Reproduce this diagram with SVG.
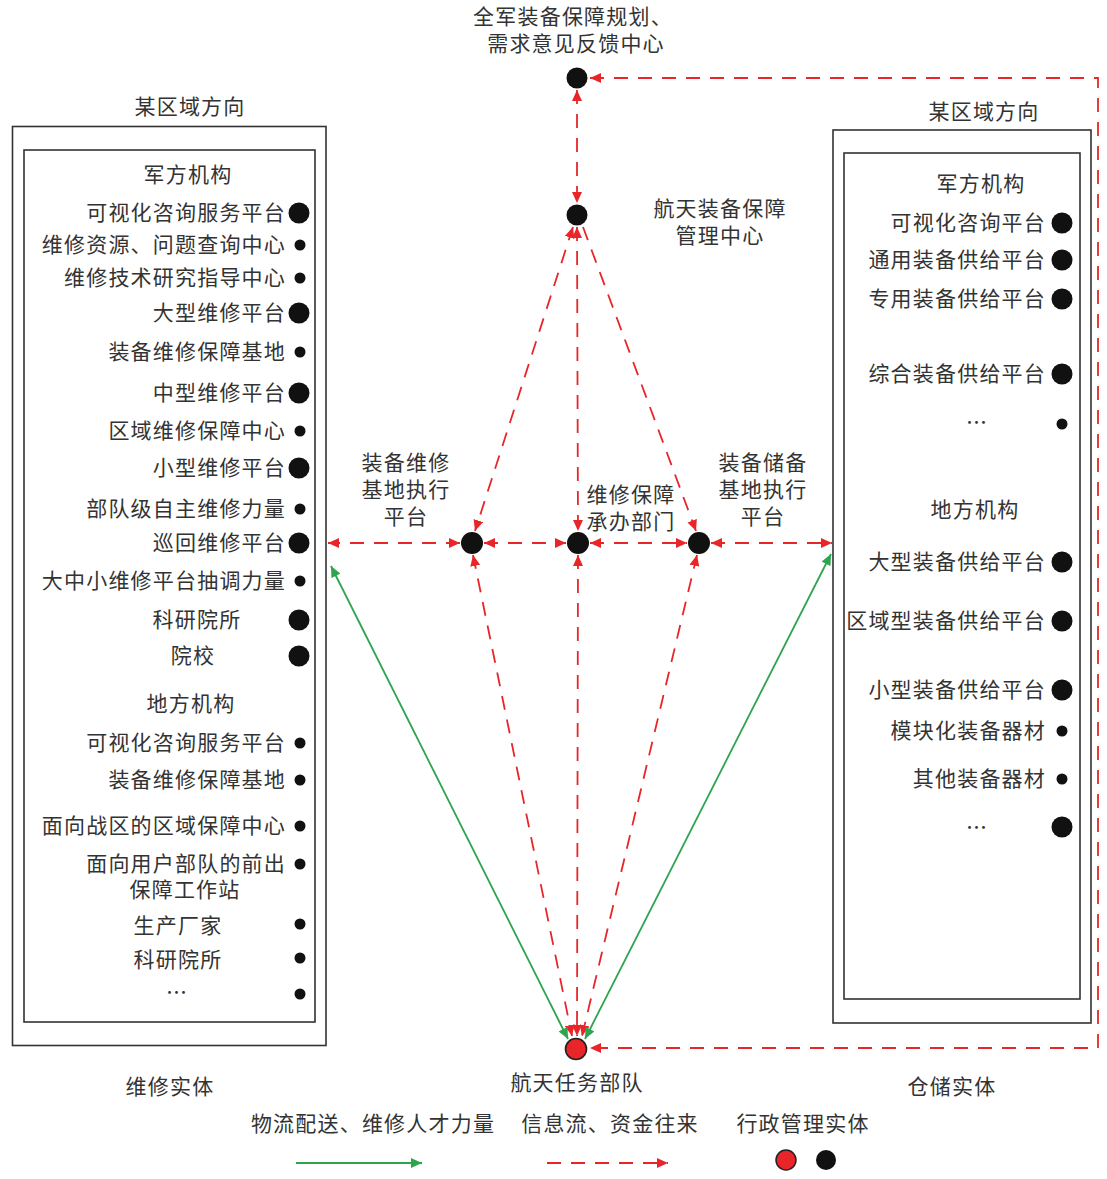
<svg xmlns="http://www.w3.org/2000/svg" width="1107" height="1179" viewBox="0 0 1107 1179">
<defs>
<marker id="ar" markerUnits="userSpaceOnUse" markerWidth="12" markerHeight="10" refX="11" refY="5" orient="auto-start-reverse"><path d="M0,0 L11,5 L0,10 z" fill="#e8262a"/></marker>
<marker id="ag" markerUnits="userSpaceOnUse" markerWidth="12" markerHeight="10" refX="11" refY="5" orient="auto-start-reverse"><path d="M0,0 L11,5 L0,10 z" fill="#2ea44f"/></marker>
</defs>
<style>
text{font-family:"Noto Sans CJK SC","Noto Sans CJK JP",sans-serif;font-size:21px;letter-spacing:1.2px;fill:#333}
.e{text-anchor:end}
.m{text-anchor:middle}
.box{fill:none;stroke:#333;stroke-width:1.6}
.red{fill:none;stroke:#e8262a;stroke-width:1.8;stroke-dasharray:14 10}
.grn{fill:none;stroke:#2ea44f;stroke-width:1.8}
.dot{fill:#111}
</style>
<rect width="1107" height="1179" fill="#fff"/>

<g id="connectors">
<path class="red" d="M590 78 L1098 78 L1098 1048 L590 1048" marker-start="url(#ar)" marker-end="url(#ar)"/>
<line class="red" x1="577" y1="90" x2="577" y2="203" marker-start="url(#ar)" marker-end="url(#ar)"/>
<line class="red" x1="573" y1="227" x2="475" y2="531" marker-start="url(#ar)" marker-end="url(#ar)"/>
<line class="red" x1="577" y1="227" x2="578" y2="531" marker-start="url(#ar)" marker-end="url(#ar)"/>
<line class="red" x1="583" y1="227" x2="696" y2="531" marker-end="url(#ar)"/>
<line class="red" x1="460" y1="543" x2="328" y2="543" marker-start="url(#ar)" marker-end="url(#ar)"/>
<line class="red" x1="484" y1="543" x2="566" y2="543" marker-start="url(#ar)" marker-end="url(#ar)"/>
<line class="red" x1="590" y1="543" x2="687" y2="543" marker-start="url(#ar)" marker-end="url(#ar)"/>
<line class="red" x1="711" y1="543" x2="832" y2="543" marker-start="url(#ar)" marker-end="url(#ar)"/>
<line class="red" x1="473" y1="555" x2="572" y2="1036" marker-start="url(#ar)" marker-end="url(#ar)"/>
<line class="red" x1="578" y1="555" x2="577" y2="1036" marker-start="url(#ar)" marker-end="url(#ar)"/>
<line class="red" x1="697" y1="555" x2="582" y2="1036" marker-start="url(#ar)" marker-end="url(#ar)"/>
<line class="grn" x1="331" y1="566" x2="568" y2="1039" marker-start="url(#ag)" marker-end="url(#ag)"/>
<line class="grn" x1="831" y1="554" x2="585" y2="1039" marker-start="url(#ag)" marker-end="url(#ag)"/>
</g>

<g id="node-top">
<circle class="dot" cx="577" cy="78" r="10.5"/>
<text class="m" x="573" y="24">全军装备保障规划、</text>
<text class="m" x="576" y="51">需求意见反馈中心</text>
</g>
<g id="node-mgmt">
<circle class="dot" cx="577" cy="215" r="10.5"/>
<text class="m" x="720" y="216">航天装备保障</text>
<text class="m" x="720" y="243">管理中心</text>
</g>
<g id="node-repair-base">
<circle class="dot" cx="472" cy="543" r="11"/>
<text class="m" x="406" y="470">装备维修</text>
<text class="m" x="406" y="497">基地执行</text>
<text class="m" x="406" y="524">平台</text>
</g>
<g id="node-undertake">
<circle class="dot" cx="578" cy="543" r="11"/>
<text class="m" x="631" y="502">维修保障</text>
<text class="m" x="631" y="529">承办部门</text>
</g>
<g id="node-storage-base">
<circle class="dot" cx="699" cy="543" r="11"/>
<text class="m" x="763" y="470">装备储备</text>
<text class="m" x="763" y="497">基地执行</text>
<text class="m" x="763" y="524">平台</text>
</g>
<g id="node-unit">
<circle cx="576" cy="1049" r="10.5" fill="#e8262a" stroke="#222" stroke-width="1.6"/>
<text class="m" x="577" y="1090">航天任务部队</text>
</g>

<g id="repair-entity">
<text class="m" x="190" y="114">某区域方向</text>
<rect class="box" x="12.5" y="126.5" width="313.5" height="919"/>
<rect class="box" x="24" y="150" width="291" height="872"/>
<text class="m" x="188" y="182">军方机构</text>
<text class="e" x="286" y="220">可视化咨询服务平台</text><circle class="dot" cx="299" cy="213" r="10.5"/>
<text class="e" x="286" y="252">维修资源、问题查询中心</text><circle class="dot" cx="300" cy="245" r="5.5"/>
<text class="e" x="286" y="285">维修技术研究指导中心</text><circle class="dot" cx="300" cy="278" r="5.5"/>
<text class="e" x="286" y="320">大型维修平台</text><circle class="dot" cx="299" cy="313" r="10.5"/>
<text class="e" x="286" y="359">装备维修保障基地</text><circle class="dot" cx="300" cy="352" r="5.5"/>
<text class="e" x="286" y="400">中型维修平台</text><circle class="dot" cx="299" cy="393" r="10.5"/>
<text class="e" x="286" y="438">区域维修保障中心</text><circle class="dot" cx="300" cy="431" r="5.5"/>
<text class="e" x="286" y="475">小型维修平台</text><circle class="dot" cx="299" cy="468" r="10.5"/>
<text class="e" x="286" y="516">部队级自主维修力量</text><circle class="dot" cx="300" cy="509" r="5.5"/>
<text class="e" x="286" y="550">巡回维修平台</text><circle class="dot" cx="299" cy="543" r="10.5"/>
<text class="e" x="286" y="588">大中小维修平台抽调力量</text><circle class="dot" cx="300" cy="581" r="5.5"/>
<text class="m" x="197" y="627">科研院所</text><circle class="dot" cx="299" cy="620" r="10.5"/>
<text class="m" x="193" y="663">院校</text><circle class="dot" cx="299" cy="656" r="10.5"/>
<text class="m" x="191" y="711">地方机构</text>
<text class="e" x="286" y="750">可视化咨询服务平台</text><circle class="dot" cx="300" cy="743" r="5.5"/>
<text class="e" x="286" y="787">装备维修保障基地</text><circle class="dot" cx="300" cy="780" r="5.5"/>
<text class="e" x="286" y="833">面向战区的区域保障中心</text><circle class="dot" cx="300" cy="826" r="5.5"/>
<text class="e" x="286" y="871">面向用户部队的前出</text><circle class="dot" cx="300" cy="864" r="5.5"/>
<text class="m" x="185" y="897">保障工作站</text>
<text class="m" x="178" y="933">生产厂家</text><circle class="dot" cx="300" cy="924" r="5.5"/>
<text class="m" x="178" y="967">科研院所</text><circle class="dot" cx="300" cy="958" r="5.5"/>
<text class="m" x="177" y="1000">…</text><circle class="dot" cx="300" cy="994" r="5.5"/>
<text class="m" x="170" y="1094">维修实体</text>
</g>

<g id="storage-entity">
<text class="m" x="984" y="119">某区域方向</text>
<rect class="box" x="833" y="130" width="258" height="893"/>
<rect class="box" x="844" y="153" width="236" height="846"/>
<text class="m" x="981" y="191">军方机构</text>
<text class="e" x="1046" y="230">可视化咨询平台</text><circle class="dot" cx="1062" cy="223" r="10.5"/>
<text class="e" x="1046" y="267">通用装备供给平台</text><circle class="dot" cx="1062" cy="260" r="10.5"/>
<text class="e" x="1046" y="306">专用装备供给平台</text><circle class="dot" cx="1062" cy="299" r="10.5"/>
<text class="e" x="1046" y="381">综合装备供给平台</text><circle class="dot" cx="1062" cy="374" r="10.5"/>
<text class="m" x="977" y="430">…</text><circle class="dot" cx="1062" cy="424" r="5.5"/>
<text class="m" x="975" y="517">地方机构</text>
<text class="e" x="1046" y="569">大型装备供给平台</text><circle class="dot" cx="1062" cy="562" r="10.5"/>
<text class="e" x="1046" y="628">区域型装备供给平台</text><circle class="dot" cx="1062" cy="621" r="10.5"/>
<text class="e" x="1046" y="697">小型装备供给平台</text><circle class="dot" cx="1062" cy="690" r="10.5"/>
<text class="e" x="1046" y="738">模块化装备器材</text><circle class="dot" cx="1062" cy="731" r="5.5"/>
<text class="e" x="1046" y="786">其他装备器材</text><circle class="dot" cx="1062" cy="779" r="5.5"/>
<text class="m" x="977" y="835">…</text><circle class="dot" cx="1062" cy="827" r="10.5"/>
<text class="m" x="952" y="1094">仓储实体</text>
</g>

<g id="legend">
<text class="m" x="373" y="1131">物流配送、维修人才力量</text>
<text class="m" x="610" y="1131">信息流、资金往来</text>
<text class="m" x="803" y="1131">行政管理实体</text>
<line class="grn" x1="296" y1="1163" x2="422" y2="1163" marker-end="url(#ag)"/>
<line class="red" x1="547" y1="1163" x2="668" y2="1163" marker-end="url(#ar)"/>
<circle cx="786" cy="1160" r="10" fill="#e8262a" stroke="#222" stroke-width="1.5"/>
<circle class="dot" cx="826" cy="1160" r="10"/>
</g>
</svg>
